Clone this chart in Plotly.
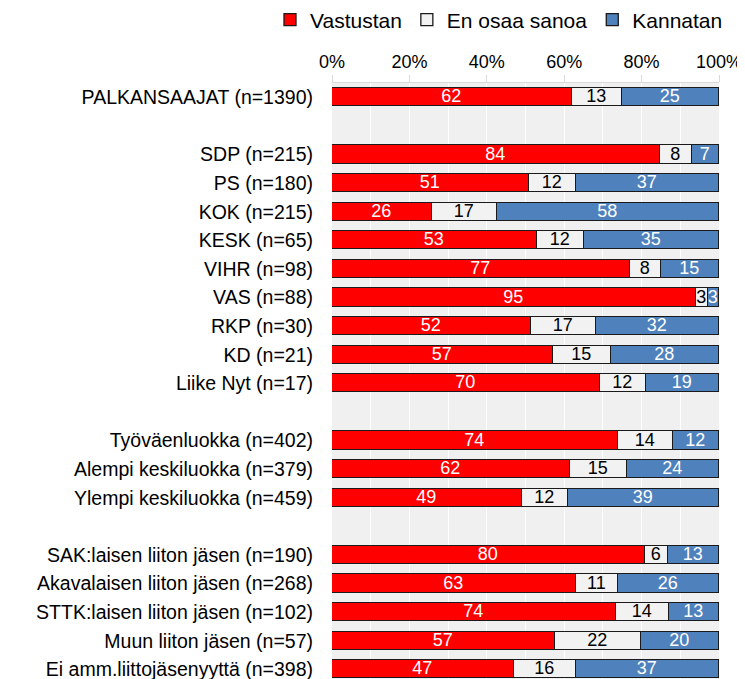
import plotly.graph_objects as go

# ---- data ----
groups = [
    ["PALKANSAAJAT (n=1390)"],
    ["SDP (n=215)", "PS (n=180)", "KOK (n=215)", "KESK (n=65)", "VIHR (n=98)",
     "VAS (n=88)", "RKP (n=30)", "KD (n=21)", "Liike Nyt (n=17)"],
    ["Työväenluokka (n=402)", "Alempi keskiluokka (n=379)", "Ylempi keskiluokka (n=459)"],
    ["SAK:laisen liiton jäsen (n=190)", "Akavalaisen liiton jäsen (n=268)",
     "STTK:laisen liiton jäsen (n=102)", "Muun liiton jäsen (n=57)",
     "Ei amm.liittojäsenyyttä (n=398)"],
]
vastustan = [62, 84, 51, 26, 53, 77, 95, 52, 57, 70, 74, 62, 49, 80, 63, 74, 57, 47]
en_osaa   = [13, 8, 12, 17, 12, 8, 3, 17, 15, 12, 14, 15, 12, 6, 11, 14, 22, 16]
kannatan  = [25, 7, 37, 58, 35, 15, 3, 32, 28, 19, 12, 24, 39, 13, 26, 13, 20, 37]
series_names = ["Vastustan", "En osaa sanoa", "Kannatan"]
x_ticks = [0, 0.2, 0.4, 0.6, 0.8, 1.0]

# ---- layout positions (one blank row between groups) ----
labels, ypos = [], []
pos = 0
for g in groups:
    for c in g:
        labels.append(c)
        ypos.append(pos)
        pos += 1
    pos += 1

totals = [a + b + c for a, b, c in zip(vastustan, en_osaa, kannatan)]
series = [vastustan, en_osaa, kannatan]
colors = ["#FF0000", "#F2F2F2", "#4F81BD"]
text_colors = ["white", "black", "white"]
FONT = "Liberation Sans, Arial"

fig = go.Figure()
for name, vals, col, tcol in zip(series_names, series, colors, text_colors):
    fig.add_trace(go.Bar(
        name=name,
        y=ypos,
        x=[v / t for v, t in zip(vals, totals)],
        orientation="h",
        width=0.64,
        marker=dict(color=col, line=dict(color="#1a1a1a", width=1.3)),
        text=[str(v) for v in vals],
        textposition="inside",
        insidetextanchor="middle",
        textangle=0,
        constraintext="none",
        textfont=dict(color=tcol, size=18, family=FONT),
        hoverinfo="skip",
        cliponaxis=True,
    ))

# the page body has an 8px margin, so the figure is drawn 8px in from the top-left
OFF = 8
W, H = 745 - OFF, 679 - OFF
top = 83 - OFF
left = 332 - OFF
right = 745 - 719
plot_w = W - left - right
plot_h = H - top
fig.update_layout(
    barmode="stack",
    width=W, height=H,
    margin=dict(l=left, r=right, t=top, b=0, pad=0, autoexpand=False),
    paper_bgcolor="white",
    plot_bgcolor="#F0F0F0",
    font=dict(family=FONT, size=18, color="black"),
    uniformtext=dict(minsize=18, mode="show"),
    bargap=0,
    legend=dict(
        orientation="h",
        x=(262 - left) / plot_w, xanchor="left",
        y=1 + (top - (20 - OFF)) / plot_h, yanchor="middle",
        font=dict(size=21, color="black", family=FONT),
        itemwidth=30,
        traceorder="normal",
        bgcolor="rgba(0,0,0,0)",
    ),
    showlegend=True,
)
row_px = 28.6
bottom_rows = plot_h / row_px - 0.5
fig.update_xaxes(
    side="top",
    range=[0, 1],
    tickvals=x_ticks,
    tickformat=".0%",
    showgrid=True, gridcolor="white", gridwidth=1,
    minor=dict(dtick=0.1, showgrid=True, gridcolor="white", gridwidth=1),
    ticks="outside", ticklen=7, tickcolor="#D9D9D9",
    showline=True, linecolor="#D9D9D9", linewidth=1,
    tickfont=dict(size=18, color="black", family=FONT),
    zeroline=False,
    automargin=False,
    ticklabeloverflow="allow",
    fixedrange=True,
)
fig.update_yaxes(
    range=[bottom_rows, -0.5],
    tickvals=ypos,
    ticktext=labels,
    showgrid=False,
    zeroline=False,
    ticks="",
    ticklabelstandoff=18,
    tickfont=dict(size=19.5, color="black", family=FONT),
    automargin=False,
    ticklabeloverflow="allow",
    fixedrange=True,
)

fig.write_html("out.html")
